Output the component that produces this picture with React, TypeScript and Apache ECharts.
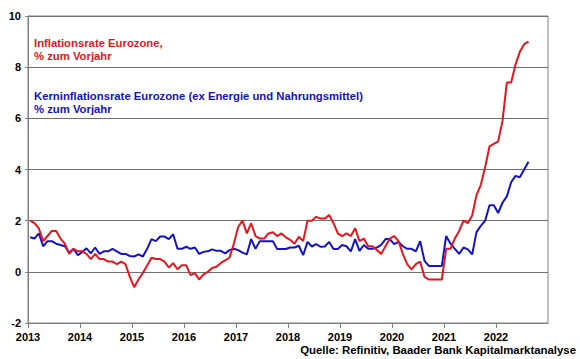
import React, { useEffect, useRef } from "react";
import * as echarts from "echarts";

const startYear = 2013;
const endYear = 2023;
const yTicks = { min: -2, max: 10, interval: 2 };

// Inflationsrate Eurozone, % zum Vorjahr (monthly, Jan 2013 - Aug 2022)
const headline: number[] = [
  2.0, 1.9, 1.7, 1.2, 1.4, 1.6, 1.6, 1.3, 1.1, 0.7, 0.9, 0.8,
  0.8, 0.7, 0.5, 0.7, 0.5, 0.5, 0.4, 0.4, 0.3, 0.4, 0.3, -0.2,
  -0.6, -0.3, -0.05, 0.25, 0.55, 0.5, 0.5, 0.4, 0.17, 0.34, 0.1, 0.26,
  0.26, -0.13, -0.05, -0.3, -0.1, 0.0, 0.15, 0.2, 0.35, 0.45, 0.55, 1.1,
  1.75, 2.0, 1.5, 1.9, 1.4, 1.3, 1.3, 1.5, 1.55, 1.4, 1.5, 1.35,
  1.25, 1.1, 1.37, 1.2, 2.0, 2.0, 2.15, 2.08, 2.08, 2.22, 1.9, 1.5,
  1.4, 1.5, 1.4, 1.7, 1.2, 1.3, 1.0, 1.0, 0.85, 0.7, 1.0, 1.3,
  1.4, 1.2, 0.7, 0.3, 0.1, 0.3, 0.4, -0.2, -0.3, -0.3, -0.3, -0.3,
  0.9, 0.9, 1.3, 1.6, 2.0, 1.9, 2.2, 3.0, 3.4, 4.1, 4.9, 5.0,
  5.1, 5.9, 7.4, 7.4, 8.1, 8.6, 8.9, 9.0,
];

// Kerninflationsrate Eurozone (ex Energie und Nahrungsmittel), % zum Vorjahr
const core: number[] = [
  1.35, 1.3, 1.5, 1.0, 1.2, 1.2, 1.1, 1.05, 1.0, 0.75, 0.9, 0.65,
  0.77, 0.92, 0.72, 0.95, 0.7, 0.8, 0.8, 0.9, 0.8, 0.7, 0.7, 0.62,
  0.6, 0.68, 0.6, 0.9, 1.28, 1.2, 1.38, 1.38, 1.28, 1.47, 0.9, 0.9,
  0.98, 0.9, 0.95, 0.7, 0.78, 0.8, 0.88, 0.82, 0.82, 0.72, 0.85, 0.9,
  0.85, 0.75, 0.68, 1.28, 0.9, 1.2, 1.2, 1.2, 1.2, 0.89, 0.89, 0.89,
  0.95, 0.95, 1.02, 0.65, 1.17, 0.99, 1.08, 0.98, 0.99, 1.17, 0.89, 0.89,
  1.05, 1.0, 0.8, 1.28, 0.82, 1.05, 0.9, 0.9, 0.95, 1.05, 1.28, 1.28,
  1.08, 1.17, 1.0, 0.9, 0.9, 0.8, 1.2, 0.43, 0.23, 0.23, 0.23, 0.23,
  1.4, 1.1, 0.9, 0.7, 0.95, 0.88, 0.68, 1.55, 1.8, 2.0, 2.6, 2.6,
  2.3, 2.7, 2.95, 3.5, 3.75, 3.7, 4.0, 4.3,
];

const redLabel = ["Inflationsrate Eurozone,", "% zum Vorjahr"];
const blueLabel = ["Kerninflationsrate Eurozone (ex Energie und Nahrungsmittel)", "% zum Vorjahr"];
const sourceText = "Quelle: Refinitiv, Baader Bank Kapitalmarktanalyse";

const RED = "#e8141c";
const BLUE = "#1212c8";
const FONT = "'Liberation Sans', Arial, sans-serif";

const toPoints = (vals: number[]) =>
  vals.map((v, i) => [startYear + (i + 0.5) / 12, v]);

export default function App() {
  const ref = useRef<HTMLDivElement>(null);
  useEffect(() => {
    if (!ref.current) return;
    const chart = echarts.init(ref.current, null, { renderer: "svg" });
    const textStyle = (color: string, size: number) => ({
      fill: color,
      fontFamily: FONT,
      fontWeight: "bold",
      fontSize: size,
    });
    chart.setOption({
      animation: false,
      backgroundColor: "#ffffff",
      grid: {
        left: 28,
        right: 32,
        top: 16,
        bottom: 36,
        show: true,
        borderColor: "#808080",
        borderWidth: 1,
        backgroundColor: "transparent",
      },
      xAxis: {
        type: "value",
        min: startYear,
        max: endYear,
        interval: 1,
        axisLine: { show: true, onZero: false, lineStyle: { color: "#808080", width: 1 } },
        axisTick: { show: true, length: 5, inside: false, lineStyle: { color: "#808080" } },
        splitLine: { show: false },
        axisLabel: {
          color: "#000",
          fontFamily: FONT,
          fontWeight: "bold",
          fontSize: 11,
          margin: 8,
          showMaxLabel: false,
          formatter: (v: number) => (v >= endYear ? "" : String(v)),
        },
      },
      yAxis: {
        type: "value",
        min: yTicks.min,
        max: yTicks.max,
        interval: yTicks.interval,
        axisLine: { show: true, lineStyle: { color: "#808080", width: 1 } },
        axisTick: { show: true, length: 3, lineStyle: { color: "#808080" } },
        splitLine: { show: true, lineStyle: { color: "#707070", width: 1 } },
        axisLabel: {
          color: "#000",
          fontFamily: FONT,
          fontWeight: "bold",
          fontSize: 11,
          margin: 7,
        },
      },
      series: [
        {
          name: "Kerninflation",
          type: "line",
          data: toPoints(core),
          showSymbol: false,
          lineStyle: { color: BLUE, width: 2 },
          itemStyle: { color: BLUE },
          z: 2,
        },
        {
          name: "Inflation",
          type: "line",
          data: toPoints(headline),
          showSymbol: false,
          lineStyle: { color: RED, width: 2 },
          itemStyle: { color: RED },
          z: 3,
        },
      ],
      graphic: [
        { type: "text", left: 34, top: 37, style: { ...textStyle(RED, 11.3), text: redLabel[0] } },
        { type: "text", left: 34, top: 50, style: { ...textStyle(RED, 11.3), text: redLabel[1] } },
        { type: "text", left: 34, top: 90, style: { ...textStyle(BLUE, 11.3), text: blueLabel[0] } },
        { type: "text", left: 34, top: 103, style: { ...textStyle(BLUE, 11.3), text: blueLabel[1] } },
        { type: "text", right: 4, top: 344, style: { ...textStyle("#000", 11.4), text: sourceText } },
      ],
    });
    return () => chart.dispose();
  }, []);
  return <div ref={ref} style={{ width: 580, height: 359, position: "absolute", left: 0, top: 0 }} />;
}
